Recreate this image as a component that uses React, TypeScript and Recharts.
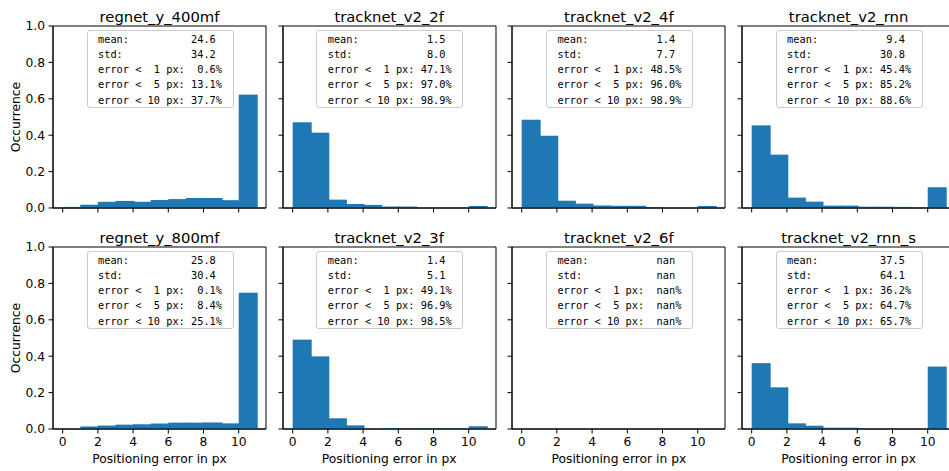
import { BarChart, Bar, XAxis, YAxis, ReferenceArea } from "recharts";

// histogram bins (width 1 px, last bin holds everything >= 10)
const binCenters = [0.5, 1.5, 2.5, 3.5, 4.5, 5.5, 6.5, 7.5, 8.5, 9.5, 10.5];
const xTicks = [0, 2, 4, 6, 8, 10];
const yTicks = [0, 0.2, 0.4, 0.6, 0.8, 1.0];

const panelNames = [
  "regnet_y_400mf",
  "tracknet_v2_2f",
  "tracknet_v2_4f",
  "tracknet_v2_rnn",
  "regnet_y_800mf",
  "tracknet_v2_3f",
  "tracknet_v2_6f",
  "tracknet_v2_rnn_s",
];

const regnetY400mf = [0.006, 0.018, 0.034, 0.039, 0.034, 0.044, 0.049, 0.055, 0.055, 0.043, 0.623];
const tracknet2f = [0.471, 0.414, 0.046, 0.022, 0.017, 0.008, 0.008, 0.001, 0.001, 0.001, 0.011];
const tracknet4f = [0.485, 0.397, 0.04, 0.024, 0.014, 0.012, 0.012, 0.005, 0.0, 0.0, 0.011];
const tracknetRnn = [0.454, 0.293, 0.057, 0.035, 0.013, 0.013, 0.007, 0.007, 0.006, 0.001, 0.114];
const regnetY800mf = [0.001, 0.014, 0.019, 0.024, 0.026, 0.03, 0.035, 0.035, 0.036, 0.031, 0.749];
const tracknet3f = [0.491, 0.399, 0.059, 0.02, 0.0, 0.004, 0.003, 0.003, 0.003, 0.003, 0.015];
const tracknet6f: number[] = [];
const tracknetRnnS = [0.362, 0.229, 0.031, 0.018, 0.007, 0.007, 0.001, 0.001, 0.001, 0.0, 0.343];

const histograms = [
  regnetY400mf,
  tracknet2f,
  tracknet4f,
  tracknetRnn,
  regnetY800mf,
  tracknet3f,
  tracknet6f,
  tracknetRnnS,
];

const means = [24.6, 1.5, 1.4, 9.4, 25.8, 1.4, NaN, 37.5];
const stds = [34.2, 8.0, 7.7, 30.8, 30.4, 5.1, NaN, 64.1];
const errUnder1 = [0.6, 47.1, 48.5, 45.4, 0.1, 49.1, NaN, 36.2];
const errUnder5 = [13.1, 97.0, 96.0, 85.2, 8.4, 96.9, NaN, 64.7];
const errUnder10 = [37.7, 98.9, 98.9, 88.6, 25.1, 98.5, NaN, 65.7];

const PLOT_W = 213;
const PLOT_H = 182;
const panelLefts = [53, 282.7, 512.4, 742.1];
const rowTops = [25.5, 246.5];
const Y_AXIS_W = 50;
const X_AXIS_H = 30;
const PAD = 6;
const BLUE = "#1f77b4";

const num = (v: number) => (isNaN(v) ? "nan" : v.toFixed(1));

function statLines(i: number) {
  return [
    "mean:".padEnd(15) + num(means[i]).padStart(4),
    "std:".padEnd(15) + num(stds[i]).padStart(4),
    "error <  1 px: " + (num(errUnder1[i]) + "%").padStart(5),
    "error <  5 px: " + (num(errUnder5[i]) + "%").padStart(5),
    "error < 10 px: " + (num(errUnder10[i]) + "%").padStart(5),
  ];
}

// bars are floored to whole pixels by recharts, widen a bit so bins touch
function HistBar(props: any) {
  const { x, y, width, height } = props;
  if (!height || height <= 0) return null;
  return <rect x={x} y={y} width={width + 1} height={height} fill={BLUE} />;
}

// shared axes: keep the tick marks, drop the label
const NoLabel = () => <g />;

function Panel({ index }: { index: number }) {
  const row = Math.floor(index / 4);
  const col = index % 4;
  const left = panelLefts[col];
  const top = rowTops[row];
  const data = histograms[index].map((v, i) => ({ x: binCenters[i], v }));
  const showY = col === 0;
  const showX = row === 1;

  return (
    <>
      <div
        style={{
          position: "absolute",
          left: left - Y_AXIS_W,
          top: top - PAD,
        }}
      >
        <BarChart
          width={Y_AXIS_W + PLOT_W + PAD}
          height={PAD + PLOT_H + X_AXIS_H}
          data={data}
          margin={{ top: PAD, right: PAD, bottom: 0, left: 0 }}
          barCategoryGap={0}
          barGap={0}
        >
          <XAxis
            dataKey="x"
            type="number"
            domain={[-0.55, 11.55]}
            allowDataOverflow
            ticks={xTicks}
            height={X_AXIS_H}
            tickSize={4.5}
            tickMargin={4}
            tick={showX ? { fill: "#000", fontSize: 12.3 } : NoLabel}
            stroke="#000"
            interval={0}
          />
          <YAxis
            type="number"
            domain={[0, 1]}
            allowDataOverflow
            ticks={yTicks}
            width={Y_AXIS_W}
            tickSize={4.5}
            tickMargin={3.5}
            tickFormatter={(v: number) => v.toFixed(1)}
            tick={showY ? { fill: "#000", fontSize: 12.3 } : NoLabel}
            stroke="#000"
            interval={0}
          />
          <Bar
            dataKey="v"
            fill={BLUE}
            shape={HistBar}
            isAnimationActive={false}
          />
          <ReferenceArea
            x1={-0.55}
            x2={11.55}
            y1={0}
            y2={1}
            fill="none"
            fillOpacity={0}
            stroke="#000"
            strokeWidth={1}
          />
        </BarChart>
      </div>
      <div
        style={{
          position: "absolute",
          left,
          width: PLOT_W,
          top: top - 18,
          height: 18,
          lineHeight: "18px",
          textAlign: "center",
          fontSize: 14.8,
          color: "#000",
        }}
      >
        {panelNames[index]}
      </div>
      <div
        style={{
          position: "absolute",
          left: left + 33.5,
          top: top + 4.7,
          width: 147,
          height: 78.3,
          boxSizing: "border-box",
          border: "1px solid #cccccc",
          borderRadius: 3,
          background: "rgba(255,255,255,0.8)",
          paddingLeft: 10.5,
          paddingTop: 0.5,
          fontFamily: "'DejaVu Sans Mono', monospace",
          fontSize: 10.3,
          lineHeight: "15.2px",
          whiteSpace: "pre",
          color: "#000",
        }}
      >
        {statLines(index).map((line, k) => (
          <div key={k}>{line}</div>
        ))}
      </div>
      {showY && (
        <div
          style={{
            position: "absolute",
            left: 15.5 - 50,
            top: top + PLOT_H / 2 - 8,
            width: 100,
            height: 16,
            lineHeight: "16px",
            textAlign: "center",
            fontSize: 12.3,
            transform: "rotate(-90deg)",
            color: "#000",
          }}
        >
          Occurrence
        </div>
      )}
      {showX && (
        <div
          style={{
            position: "absolute",
            left,
            width: PLOT_W,
            top: top + PLOT_H + 22,
            height: 16,
            lineHeight: "16px",
            textAlign: "center",
            fontSize: 12.3,
            color: "#000",
          }}
        >
          Positioning error in px
        </div>
      )}
    </>
  );
}

export default function App() {
  return (
    <div
      style={{
        position: "absolute",
        left: 0,
        top: 0,
        width: 949,
        height: 471,
        overflow: "hidden",
        background: "#fff",
        fontFamily: "'DejaVu Sans', sans-serif",
      }}
    >
      {panelNames.map((_, i) => (
        <Panel key={i} index={i} />
      ))}
    </div>
  );
}
